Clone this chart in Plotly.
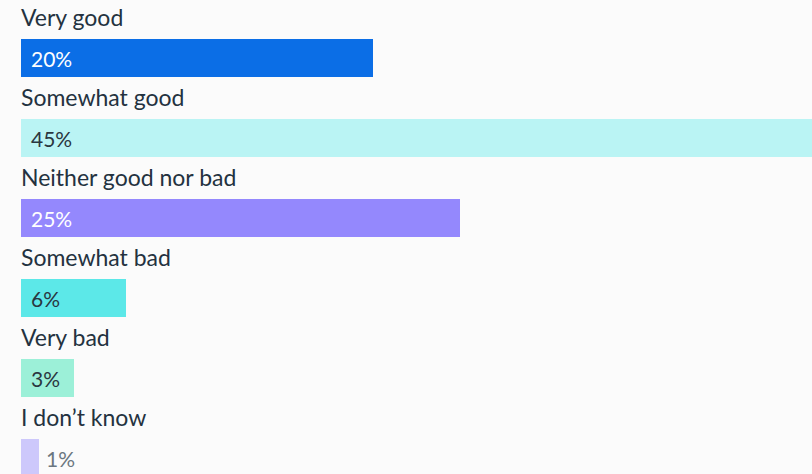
import plotly.graph_objects as go

# Survey response shares (percent)
categories = ["Very good", "Somewhat good", "Neither good nor bad",
              "Somewhat bad", "Very bad", "I don\u2019t know"]
values = [20, 45, 25, 6, 3, 1]
value_labels = ["20%", "45%", "25%", "6%", "3%", "1%"]

bar_colors = ["#0b6ee6", "#baf4f4", "#9488fd", "#5ce8e8", "#9cf0d8", "#cdc8fb"]
label_colors = ["#ffffff", "#2a3640", "#ffffff", "#2a3640", "#2a3640", "#6b7780"]
inside = [True, True, True, True, True, False]

BG = "#fbfbfb"
TEXT = "#243240"
FONT = "Lato, Noto Sans, sans-serif"

positions = list(range(len(categories)))

fig = go.Figure(
    go.Bar(
        x=values,
        y=positions,
        orientation="h",
        width=0.475,
        marker=dict(color=bar_colors, line=dict(width=0)),
        hoverinfo="skip",
    )
)

annotations = []
for i, (cat, val, lab) in enumerate(zip(categories, values, value_labels)):
    # category title above each bar
    annotations.append(dict(
        x=0, y=i - 0.51, xref="x", yref="y", text=cat, showarrow=False,
        xanchor="left", yanchor="middle", xshift=-2,
        font=dict(family=FONT, size=23, color=TEXT),
    ))
    # value label inside the bar, or just past its end when it's too short
    annotations.append(dict(
        x=0 if inside[i] else val, y=i, xref="x", yref="y", text=lab,
        showarrow=False, xanchor="left", yanchor="middle",
        xshift=8 if inside[i] else 5,
        font=dict(family=FONT, size=21, color=label_colors[i]),
    ))

fig.update_layout(
    width=812, height=474,
    margin=dict(l=0, r=0, t=0, b=0),
    paper_bgcolor=BG, plot_bgcolor=BG,
    showlegend=False,
    bargap=0,
    annotations=annotations,
    xaxis=dict(range=[0, 45.0], domain=[21 / 812, 1], visible=False, fixedrange=True),
    yaxis=dict(range=[5.2, -0.725], visible=False, fixedrange=True),
)

fig.write_html("out.html")
